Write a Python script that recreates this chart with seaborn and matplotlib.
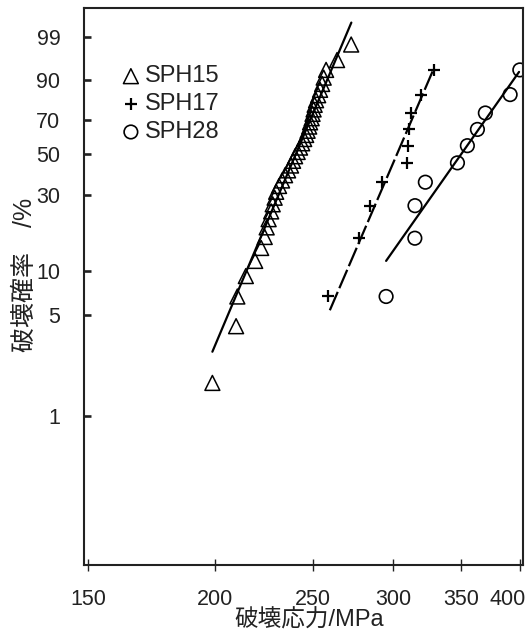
import numpy as np
import matplotlib
matplotlib.use("Agg")
import matplotlib.pyplot as plt
import matplotlib.transforms as mtrans
import seaborn as sns
from matplotlib.ticker import FixedLocator, NullLocator, FixedFormatter

sns.set_style("ticks")
plt.rcParams["font.family"] = ["Liberation Sans", "Noto Sans CJK JP"]

# ---------------------------------------------------------
# data (stress in MPa, failure prob in %)
# ---------------------------------------------------------
sph15_stress = [198.9, 209.9, 210.5, 214.6, 219.2, 222.2, 224.0, 225.0, 226.0, 227.3,
                228.1, 229.1, 229.9, 231.4, 233.0, 234.6, 236.2, 237.8, 238.9, 240.0,
                241.4, 242.7, 243.9, 245.0, 246.1, 246.9, 247.8, 248.3, 249.2, 249.7,
                250.3, 250.9, 251.7, 252.9, 254.0, 255.2, 256.1, 257.5, 264.0, 272.6]
sph15_prob = [1.7, 4.2, 6.7, 9.2, 11.6, 14.1, 16.6, 19.1, 21.5, 24.0,
              26.5, 29.0, 31.4, 33.9, 36.4, 38.9, 41.3, 43.8, 46.3, 48.8,
              51.2, 53.7, 56.2, 58.7, 61.1, 63.6, 66.1, 68.6, 71.0, 73.5,
              76.0, 78.5, 80.9, 83.4, 85.9, 88.4, 90.8, 93.3, 95.8, 98.3]

sph17_stress = [258.9, 277.5, 284.6, 292.4, 309.3, 310.2, 310.7, 312.5, 319.3, 328.9]
sph17_prob = [6.7, 16.3, 26.0, 35.6, 45.2, 54.8, 64.4, 74.0, 83.7, 93.3]

sph28_stress = [295.1, 315.0, 315.1, 322.6, 347.0, 354.9, 363.1, 369.7, 391.1, 399.8]
sph28_prob = [6.7, 16.3, 26.0, 35.6, 45.2, 54.8, 64.4, 74.0, 83.7, 93.3]

# fitted lines (end points)
sph15_fit_stress = [198.9, 272.7]
sph15_fit_prob = [2.8, 99.7]
sph17_fit_stress = [259.7, 329.1]
sph17_fit_prob = [5.4, 93.9]
sph28_fit_stress = [295.1, 399.1]
sph28_fit_prob = [11.6, 92.7]

x_ticks = [150, 200, 250, 300, 350, 400]
y_ticks = [1, 5, 10, 30, 50, 70, 90, 99]


def weibull_fwd(p):
    p = np.clip(np.asarray(p, dtype=float), 1e-6, 100 - 1e-9)
    return np.log(-np.log(1 - p / 100.0))


def weibull_inv(w):
    return 100.0 * (1 - np.exp(-np.exp(np.asarray(w, dtype=float))))


fig = plt.figure(figsize=(5.28, 6.36), dpi=100)
ax = fig.add_axes([84 / 528, 71 / 636, 439 / 528, 557 / 636])

ax.set_xscale("log")
ax.set_yscale("function", functions=(weibull_fwd, weibull_inv))

sns.scatterplot(x=sph15_stress, y=sph15_prob, ax=ax, marker="^", s=115,
                facecolors="none", edgecolor="black", linewidth=1.1, label="SPH15")
sns.scatterplot(x=sph17_stress, y=sph17_prob, ax=ax, marker="+", s=85,
                color="black", linewidth=1.6, label="SPH17")
sns.scatterplot(x=sph28_stress, y=sph28_prob, ax=ax, marker="o", s=95,
                facecolors="none", edgecolor="black", linewidth=1.2, label="SPH28")

sns.lineplot(x=sph15_fit_stress, y=sph15_fit_prob, ax=ax, color="black", lw=1.6)
sns.lineplot(x=sph17_fit_stress, y=sph17_fit_prob, ax=ax, color="black", lw=1.6,
             dashes=False, linestyle=(0, (9, 1.8)))
sns.lineplot(x=sph28_fit_stress, y=sph28_fit_prob, ax=ax, color="black", lw=1.6)

ax.set_xlim(148.6, 402.7)
ax.set_ylim(0.0903, 99.936)

ax.xaxis.set_major_locator(FixedLocator(x_ticks))
ax.xaxis.set_major_formatter(FixedFormatter([str(v) for v in x_ticks]))
ax.xaxis.set_minor_locator(NullLocator())
ax.yaxis.set_major_locator(FixedLocator(y_ticks))
ax.yaxis.set_major_formatter(FixedFormatter([str(v) for v in y_ticks]))
ax.yaxis.set_minor_locator(NullLocator())

ax.tick_params(axis="x", direction="inout", length=9, width=1.0, pad=13,
               labelsize=15.5, color="#222222", labelcolor="#222222")
ax.tick_params(axis="y", direction="in", length=5, width=1.9, pad=17,
               labelsize=15.5, color="#222222", labelcolor="#222222")

# the last x label is pulled left to stay inside the figure
fig.canvas.draw()
last = ax.get_xticklabels()[-1]
last.set_transform(last.get_transform() + mtrans.ScaledTranslation(-12 / 100, 0, fig.dpi_scale_trans))

for sp in ax.spines.values():
    sp.set_linewidth(1.5)
    sp.set_color("#222222")

ax.set_xlabel("破壊応力/MPa", fontsize=17, color="#222222", va="top")
ax.xaxis.set_label_coords(0.514, -0.08)
ax.set_ylabel("破壊確率\u3000/%", fontsize=18, color="#222222")
ax.yaxis.set_label_coords(-0.106, 0.52)

leg = ax.legend(loc="upper left", bbox_to_anchor=(0.0866, 0.897), frameon=False,
                fontsize=17, handlelength=0.75, handletextpad=0.2,
                borderpad=0, borderaxespad=0, labelspacing=0.25)
for t in leg.get_texts():
    t.set_color("#222222")

fig.savefig("out.png", dpi=100)
